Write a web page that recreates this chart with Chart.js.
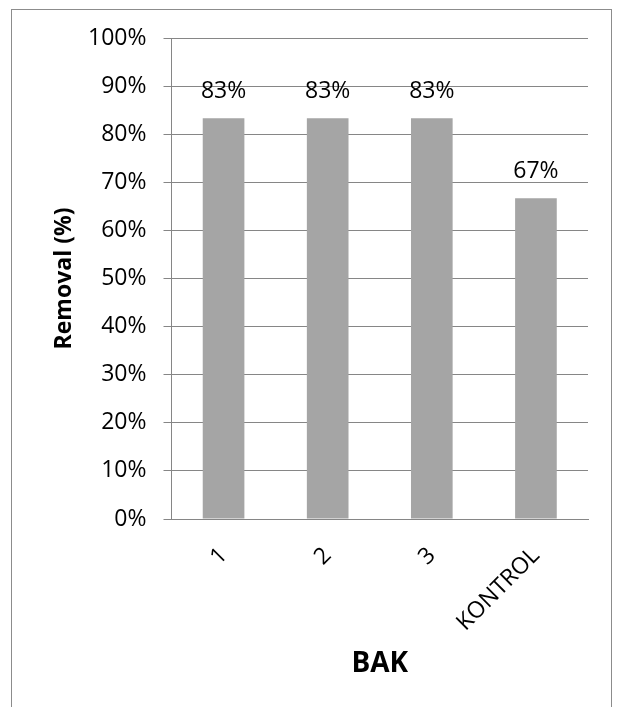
<!DOCTYPE html>
<html>
<head>
<meta charset="utf-8">
<script src="https://cdn.jsdelivr.net/npm/chart.js@4.4.1/dist/chart.umd.min.js"></script>
<style>
  html, body { margin: 0; padding: 0; background: #ffffff; }
  #wrap { width: 622px; height: 707px; }
</style>
</head>
<body>
<div id="wrap"><canvas id="chart" width="622" height="707"></canvas></div>
<script>
// Removal efficiency per tank
const categories = ['1', '2', '3', 'KONTROL'];
const removalValues = [83.33, 83.33, 83.33, 66.67];
const yTickMax = 100;
const yTickStep = 10;

const FONT = '"Open Sans", "Liberation Sans", sans-serif';
const GRID = '#868686';

// White page with the chart frame
const framePlugin = {
  id: 'frame',
  beforeDraw(chart) {
    const ctx = chart.ctx;
    ctx.save();
    ctx.fillStyle = '#ffffff';
    ctx.fillRect(0, 0, chart.width, chart.height);
    ctx.strokeStyle = '#8c8c8c';
    ctx.lineWidth = 1;
    ctx.strokeRect(11.5, 9.5, 600, 760);
    ctx.restore();
  }
};

// Percentage labels above each bar
const valueLabels = {
  id: 'valueLabels',
  afterDatasetsDraw(chart) {
    const ctx = chart.ctx;
    const meta = chart.getDatasetMeta(0);
    const data = chart.data.datasets[0].data;
    ctx.save();
    ctx.font = '23px ' + FONT;
    ctx.fillStyle = '#000000';
    ctx.textAlign = 'center';
    ctx.textBaseline = 'middle';
    meta.data.forEach((bar, i) => {
      ctx.fillText(Math.round(data[i]) + '%', bar.x, bar.y - 27);
    });
    ctx.restore();
  }
};

new Chart(document.getElementById('chart'), {
  type: 'bar',
  data: {
    labels: categories,
    datasets: [{
      data: removalValues,
      backgroundColor: '#a5a5a5',
      borderWidth: 0,
      categoryPercentage: 0.8,
      barPercentage: 0.5
    }]
  },
  options: {
    responsive: false,
    animation: false,
    devicePixelRatio: 1,
    layout: { padding: { left: 12, top: 38, right: 34, bottom: 0 } },
    plugins: {
      legend: { display: false },
      tooltip: { enabled: false }
    },
    scales: {
      x: {
        grid: { display: false },
        border: { display: true, color: GRID, width: 1 },
        ticks: {
          color: '#000000',
          font: { family: FONT, size: 23 },
          minRotation: 45,
          maxRotation: 45,
          padding: 15
        },
        title: {
          display: true,
          text: 'BAK',
          color: '#000000',
          font: { family: FONT, size: 28, weight: 'bold' },
          padding: { top: 0, bottom: 26 }
        },
        afterFit(scale) { scale.height = 188; }
      },
      y: {
        min: 0,
        max: yTickMax,
        grid: { color: GRID, lineWidth: 1, drawTicks: true, tickLength: 8 },
        border: { display: true, color: GRID, width: 1 },
        ticks: {
          stepSize: yTickStep,
          color: '#000000',
          font: { family: FONT, size: 23 },
          padding: 17,
          callback: (v) => v + '%'
        },
        title: {
          display: true,
          text: 'Removal (%)',
          color: '#000000',
          font: { family: FONT, size: 23, weight: 'bold' },
          padding: { top: 39, bottom: 0 }
        },
        afterFit(scale) { scale.width = 159.5; }
      }
    }
  },
  plugins: [framePlugin, valueLabels]
});
</script>
</body>
</html>
